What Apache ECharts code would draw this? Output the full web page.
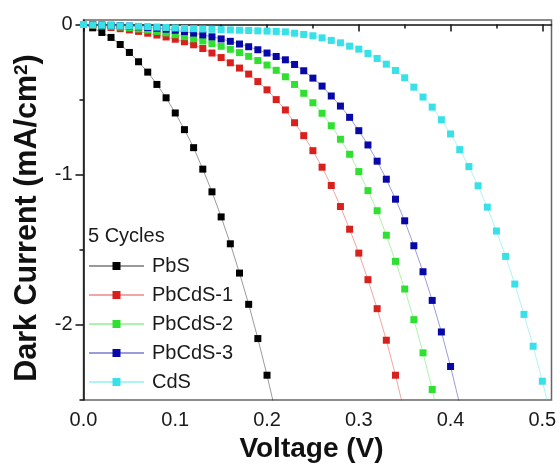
<!DOCTYPE html>
<html>
<head>
<meta charset="utf-8">
<script src="https://cdn.jsdelivr.net/npm/echarts@6/dist/echarts.min.js"></script>
<style>
  html, body { margin: 0; padding: 0; background: #fff; }
  #chart-container { width: 560px; height: 473px; }
</style>
</head>
<body>
<div id="chart-container"></div>
<script>
// voltage steps (V)
var voltage = [0, 0.01, 0.02, 0.03, 0.04, 0.05, 0.06, 0.07, 0.08, 0.09,
    0.10, 0.11, 0.12, 0.13, 0.14, 0.15, 0.16, 0.17, 0.18, 0.19,
    0.20, 0.21, 0.22, 0.23, 0.24, 0.25, 0.26, 0.27, 0.28, 0.29,
    0.30, 0.31, 0.32, 0.33, 0.34, 0.35, 0.36, 0.37, 0.38, 0.39,
    0.40, 0.41, 0.42, 0.43, 0.44, 0.45, 0.46, 0.47, 0.48, 0.49,
    0.50, 0.51];

// dark current (mA/cm2)
var pbs = [0, -0.022, -0.053, -0.086, -0.133, -0.186, -0.248, -0.317, -0.399, -0.488,
    -0.589, -0.700, -0.820, -0.963, -1.114, -1.281, -1.460, -1.655, -1.863, -2.091,
    -2.335, -2.60];
var pbcds1 = [0, -0.005, -0.012, -0.02, -0.028, -0.036, -0.046, -0.058, -0.07, -0.083,
    -0.098, -0.115, -0.135, -0.16, -0.19, -0.22, -0.255, -0.29, -0.33, -0.38,
    -0.435, -0.50, -0.569, -0.654, -0.74, -0.84, -0.95, -1.072, -1.212, -1.363,
    -1.522, -1.699, -1.892, -2.102, -2.335, -2.59];
var pbcds2 = [0, -0.003, -0.006, -0.011, -0.016, -0.022, -0.029, -0.037, -0.046, -0.056,
    -0.068, -0.081, -0.095, -0.11, -0.127, -0.145, -0.165, -0.187, -0.212, -0.24,
    -0.27, -0.305, -0.348, -0.399, -0.458, -0.521, -0.591, -0.674, -0.764, -0.864,
    -0.979, -1.106, -1.240, -1.403, -1.577, -1.761, -1.965, -2.186, -2.430, -2.70];
var pbcds3 = [0, -0.001, -0.003, -0.005, -0.008, -0.011, -0.015, -0.02, -0.025, -0.031,
    -0.038, -0.047, -0.057, -0.069, -0.082, -0.096, -0.112, -0.13, -0.148, -0.168,
    -0.19, -0.213, -0.235, -0.266, -0.308, -0.357, -0.41, -0.476, -0.543, -0.618,
    -0.707, -0.802, -0.91, -1.03, -1.163, -1.307, -1.473, -1.646, -1.837, -2.047,
    -2.277, -2.53];
var cds = [0, -0.002, -0.004, -0.006, -0.008, -0.01, -0.012, -0.014, -0.017, -0.02,
    -0.023, -0.026, -0.028, -0.03, -0.032, -0.034, -0.036, -0.038, -0.04, -0.042,
    -0.044, -0.046, -0.049, -0.058, -0.066, -0.075, -0.089, -0.106, -0.122, -0.144,
    -0.164, -0.193, -0.226, -0.264, -0.306, -0.355, -0.417, -0.483, -0.55, -0.634,
    -0.729, -0.833, -0.946, -1.074, -1.216, -1.375, -1.544, -1.728, -1.93, -2.142,
    -2.375, -2.62];

var seriesNames = ['PbS', 'PbCdS-1', 'PbCdS-2', 'PbCdS-3', 'CdS'];
var seriesValues = [pbs, pbcds1, pbcds2, pbcds3, cds];
var seriesColors = ['#000000', '#d8201c', '#30e030', '#0808a8', '#38e0e8'];

// ticks
var xTicks = [0, 0.1, 0.2, 0.3, 0.4, 0.5];
var xMinorTicks = [0.05, 0.15, 0.25, 0.35, 0.45];
var yTicks = [0, -1, -2];
var yMinorTicks = [-0.5, -1.5, -2.5];

var xMin = 0, xMax = 0.51;
var yMin = -2.5, yMax = 0.03;

var dom = document.getElementById('chart-container');
var myChart = echarts.init(dom, null, { renderer: 'canvas' });

function pairs(values) {
    return values.map(function (v, i) { return [voltage[i], v]; });
}

var series = seriesNames.map(function (name, k) {
    return {
        name: name,
        type: 'line',
        data: pairs(seriesValues[k]),
        symbol: 'rect',
        symbolSize: 7,
        itemStyle: { color: seriesColors[k] },
        lineStyle: { color: seriesColors[k], width: 1, opacity: 0.4 },
        clip: true,
        animation: false
    };
});

var fontName = 'Liberation Sans, Arial, sans-serif';
var tickFont = { fontFamily: fontName, fontSize: 20, color: '#1a1a1a' };

var option = {
    animation: false,
    title: {
        text: '5 Cycles',
        left: 88,
        top: 226,
        padding: 0,
        textStyle: { fontFamily: fontName, fontSize: 20, fontWeight: 'normal', color: '#1a1a1a' }
    },
    legend: {
        orient: 'vertical',
        left: 88,
        top: 255,
        padding: 0,
        itemWidth: 55,
        itemHeight: 10,
        itemGap: 7,
        textStyle: { fontFamily: fontName, fontSize: 20, lineHeight: 22, color: '#1a1a1a', padding: [0, 0, 0, 3] },
        data: seriesNames
    },
    grid: {
        left: 83.5,
        right: 8.5,
        top: 20,
        bottom: 73,
        show: true,
        borderColor: '#666',
        borderWidth: 1.5
    },
    xAxis: [{
        type: 'value',
        min: xMin,
        max: xMax,
        name: 'Voltage (V)',
        nameLocation: 'middle',
        nameGap: 31,
        nameTextStyle: { fontFamily: fontName, fontSize: 28, fontWeight: 'bold', color: '#111', padding: [0, 12, 0, 0] },
        axisLine: { lineStyle: { color: '#111', width: 1.5 } },
        axisTick: { length: 7, lineStyle: { color: '#111', width: 1.5 }, customValues: xTicks },
        axisLabel: Object.assign({ margin: 10, customValues: xTicks, formatter: function (v) { return v.toFixed(1); } }, tickFont),
        splitLine: { show: false }
    }, {
        type: 'value',
        min: xMin,
        max: xMax,
        position: 'bottom',
        axisLine: { show: false },
        axisTick: { length: 4, lineStyle: { color: '#111', width: 1.5 }, customValues: xMinorTicks },
        axisLabel: { show: false },
        splitLine: { show: false }
    }],
    yAxis: [{
        type: 'value',
        min: yMin,
        max: yMax,
        name: 'Dark Current (mA/cm{sup|2})',
        nameLocation: 'middle',
        nameGap: 40,
        nameTextStyle: {
            fontFamily: fontName, fontSize: 30.5, fontWeight: 'bold', color: '#111',
            padding: [0, 16, 0, 0],
            rich: { sup: { fontFamily: fontName, fontSize: 19, fontWeight: 'bold', color: '#111', verticalAlign: 'top', padding: [0, 0, 12, 0] } }
        },
        axisLine: { lineStyle: { color: '#111', width: 1.5 } },
        axisTick: { length: 8, lineStyle: { color: '#111', width: 1.5 }, customValues: yTicks },
        axisLabel: Object.assign({ margin: 11, customValues: yTicks, formatter: function (v) { return String(Math.round(v)); } }, tickFont),
        splitLine: { show: false }
    }, {
        type: 'value',
        min: yMin,
        max: yMax,
        position: 'left',
        axisLine: { show: false },
        axisTick: { length: 4, lineStyle: { color: '#111', width: 1.5 }, customValues: yMinorTicks },
        axisLabel: { show: false },
        splitLine: { show: false }
    }],
    series: series
};

if (option && typeof option === 'object') {
    myChart.setOption(option);
}

window.addEventListener('resize', myChart.resize);
</script>
</body>
</html>
